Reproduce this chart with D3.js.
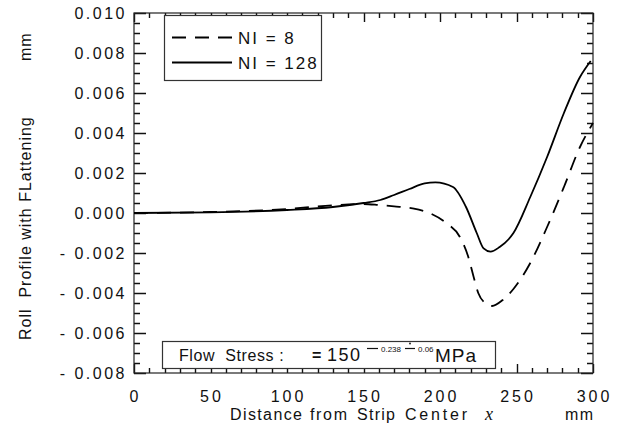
<!DOCTYPE html>
<html lang="en">
  <head>
    <meta charset="UTF-8" />
    <title>roll profile</title>
    <script src="https://cdn.jsdelivr.net/npm/d3@7"></script>
    <style>
      body { margin: 0; background: #fff; }
      text { font-family: "Liberation Sans", Arial, sans-serif; fill: #111; }
    </style>
  </head>
  <body>
    <div class="chart"></div>
    <script>
      // values (x in mm, y in mm)
      const xNI8 = [0, 50, 100, 130, 150, 160, 170, 182, 193, 204, 213, 218.5, 222, 225, 230.5, 234, 241, 248, 259, 270, 281, 291.5, 300];
      const yNI8 = [0.0, 0.00005, 0.0002, 0.00038, 0.00045, 0.0004, 0.00033, 0.00023, 0.0, -0.0005, -0.0012, -0.0022, -0.0032, -0.004, -0.00455, -0.00465, -0.00435, -0.0038, -0.0025, -0.0007, 0.0013, 0.0033, 0.0045];
      const xNI128 = [0, 50, 100, 130, 150, 161, 170, 180, 190, 197, 208.5, 217, 224, 228.5, 233, 239, 245, 248, 259, 270, 281, 291.5, 298.5];
      const yNI128 = [0.0, 0.00003, 0.00015, 0.0003, 0.0005, 0.00065, 0.0009, 0.0012, 0.00148, 0.00153, 0.0013, 0.0003, -0.001, -0.00177, -0.00193, -0.0017, -0.0013, -0.001, 0.0008, 0.0028, 0.005, 0.0068, 0.0076];
      const seriesNames = ["NI = 8", "NI = 128"];
      const xTicks = [0, 50, 100, 150, 200, 250, 300];
      const yTicks = [-0.008, -0.006, -0.004, -0.002, 0, 0.002, 0.004, 0.006, 0.008, 0.01];

      const width = 621, height = 443;
      const plotL = 134, plotR = 593, plotT = 13, plotB = 373;

      const svg = d3.select(".chart").append("svg")
        .attr("width", width).attr("height", height);

      const x = d3.scaleLinear().domain([0, 300]).range([plotL, plotR]);
      const y = d3.scaleLinear().domain([-0.008, 0.01]).range([plotB, plotT]);

      // ticks, all pointing inwards, built as one path
      const xMinor = d3.range(0, 301, 10);
      const yMinor = d3.range(-16, 21).map((k) => k * 0.0005);
      const tp = d3.path();
      xMinor.forEach((v, i) => {
        const len = i % 5 === 0 ? 9 : 5;
        const px = Math.round(x(v)) + 0.5;
        tp.moveTo(px, plotB); tp.lineTo(px, plotB - len);
        tp.moveTo(px, plotT); tp.lineTo(px, plotT + len);
      });
      yMinor.forEach((v, i) => {
        const len = i % 4 === 0 ? 12 : 6;
        const py = Math.round(y(v)) + 0.5;
        tp.moveTo(plotL, py); tp.lineTo(plotL + len, py);
        tp.moveTo(plotR, py); tp.lineTo(plotR - len, py);
      });
      svg.append("path").attr("d", tp.toString())
        .attr("fill", "none").attr("stroke", "#111").attr("stroke-width", 1.4);

      // frame
      svg.append("rect")
        .attr("x", plotL).attr("y", plotT)
        .attr("width", plotR - plotL).attr("height", plotB - plotT)
        .attr("fill", "none").attr("stroke", "#222").attr("stroke-width", 1.2);

      // tick labels
      svg.append("g").selectAll("text").data(xTicks).enter().append("text")
        .attr("x", (d) => x(d) + 1.5).attr("y", plotB + 29)
        .attr("text-anchor", "middle")
        .style("font-size", "16px").style("letter-spacing", "3px")
        .text((d) => d);

      svg.append("g").selectAll("text").data(yTicks).enter().append("text")
        .attr("x", plotL - 7).attr("y", (d) => y(d) + 6)
        .attr("text-anchor", "end")
        .style("font-size", "16px").style("letter-spacing", "2.5px")
        .text((d) => (d < 0 ? "- " : "") + Math.abs(d).toFixed(3));

      // curves
      const line = d3.line()
        .x((d) => x(d[0])).y((d) => y(d[1]))
        .curve(d3.curveMonotoneX);

      const ni8 = xNI8.map((v, i) => [v, yNI8[i]]);
      const ni128 = xNI128.map((v, i) => [v, yNI128[i]]);

      svg.append("path").datum(ni8).attr("d", line)
        .attr("fill", "none").attr("stroke", "#000").attr("stroke-width", 1.8)
        .attr("stroke-dasharray", "14,9");
      svg.append("path").datum(ni128).attr("d", line)
        .attr("fill", "none").attr("stroke", "#000").attr("stroke-width", 1.8);

      // legend
      const lg = svg.append("g");
      lg.append("rect").attr("x", 164.5).attr("y", 15.5).attr("width", 157).attr("height", 65)
        .attr("fill", "#fff").attr("stroke", "#333").attr("stroke-width", 1.2);
      lg.append("line").attr("x1", 172).attr("x2", 232).attr("y1", 37.5).attr("y2", 37.5)
        .attr("stroke", "#000").attr("stroke-width", 1.8).attr("stroke-dasharray", "14,9");
      lg.append("line").attr("x1", 172).attr("x2", 232).attr("y1", 62.5).attr("y2", 62.5)
        .attr("stroke", "#000").attr("stroke-width", 1.8);
      lg.selectAll("text.lab").data(seriesNames).enter().append("text")
        .attr("x", 238).attr("y", (d, i) => 44 + i * 25)
        .style("font-size", "17px").style("letter-spacing", "2px")
        .text((d) => d);

      // flow stress box
      const fb = svg.append("g");
      fb.append("rect").attr("x", 162.5).attr("y", 341.5).attr("width", 333).attr("height", 27)
        .attr("fill", "#fff").attr("stroke", "#333").attr("stroke-width", 1.2);
      fb.append("text").attr("x", 179).attr("y", 361)
        .style("font-size", "16px").style("letter-spacing", "0.6px")
        .style("white-space", "pre").text("Flow  Stress :");
      fb.append("text").attr("x", 312).attr("y", 361)
        .style("font-size", "16px").style("font-weight", "bold").text("=");
      fb.append("text").attr("x", 327).attr("y", 361)
        .style("font-size", "18px").style("letter-spacing", "1.5px").text("150");
      fb.append("line").attr("x1", 367).attr("x2", 378).attr("y1", 348.5).attr("y2", 348.5)
        .attr("stroke", "#111").attr("stroke-width", 1.2);
      fb.append("text").attr("x", 381).attr("y", 352)
        .style("font-size", "8px").text("0.238");
      fb.append("line").attr("x1", 405).attr("x2", 415).attr("y1", 348.5).attr("y2", 348.5)
        .attr("stroke", "#111").attr("stroke-width", 1.2);
      fb.append("circle").attr("cx", 410).attr("cy", 343.5).attr("r", 0.9).attr("fill", "#111");
      fb.append("text").attr("x", 418).attr("y", 352)
        .style("font-size", "8px").text("0.06");
      fb.append("text").attr("x", 435).attr("y", 362)
        .style("font-size", "19px").style("letter-spacing", "1px").text("MPa");

      // axis titles
      const xWords = [["Distance", 230, 72], ["from", 310, 37], ["Strip", 357, 38], ["Center", 405, 62], ["mm", 565, 28]];
      svg.append("g").selectAll("text").data(xWords).enter().append("text")
        .attr("x", (d) => d[1]).attr("y", 420)
        .attr("textLength", (d) => d[2]).attr("lengthAdjust", "spacing")
        .style("font-size", "16px")
        .text((d) => d[0]);
      svg.append("text").attr("x", 485).attr("y", 420)
        .style("font-family", "'Liberation Serif', 'Times New Roman', serif")
        .style("font-style", "italic").style("font-size", "18px").text("x");

      svg.append("text")
        .attr("transform", "translate(31,340) rotate(-90)")
        .style("font-size", "16px").style("letter-spacing", "1px")
        .style("white-space", "pre")
        .text("Roll  Profile with FLattening");
      svg.append("text")
        .attr("transform", "translate(31,61) rotate(-90)")
        .style("font-size", "16px").style("letter-spacing", "1px").text("mm");
    </script>
  </body>
</html>
